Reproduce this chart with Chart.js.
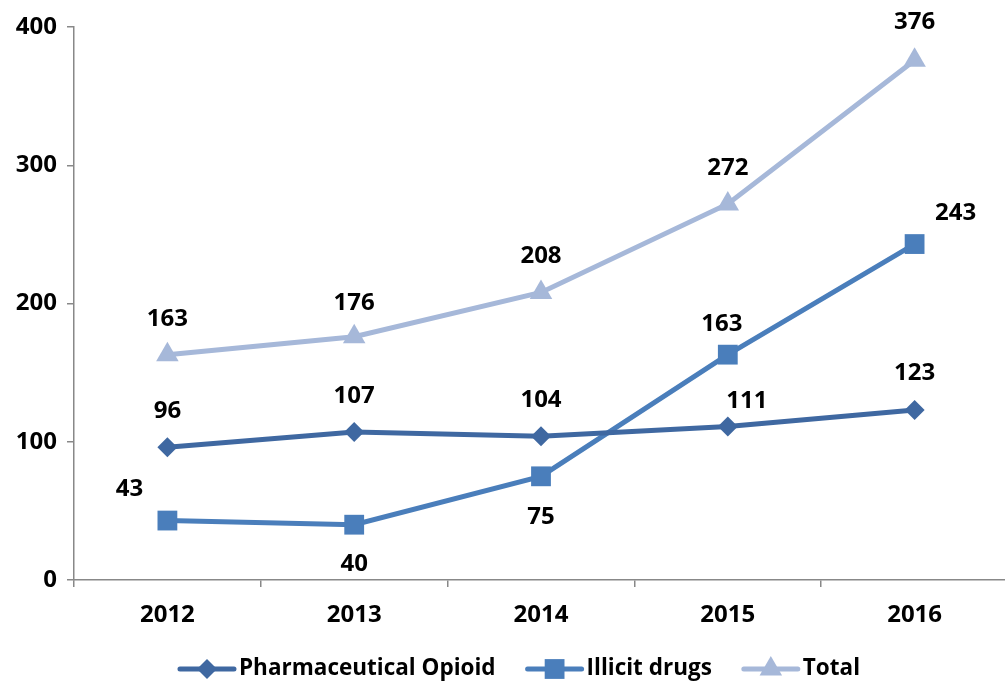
<!DOCTYPE html>
<html>
<head>
<meta charset="utf-8">
<script src="https://cdn.jsdelivr.net/npm/chart.js@4.4.0/dist/chart.umd.min.js"></script>
<style>
  html, body { margin: 0; padding: 0; background: #fff; overflow: hidden; }
</style>
</head>
<body>
<canvas id="chLine" width="1008" height="683"></canvas>
<script>
let years = ['2012', '2013', '2014', '2015', '2016'];
let pharmaValues = [96, 107, 104, 111, 123];
let illicitValues = [43, 40, 75, 163, 243];
let totalValues = [163, 176, 208, 272, 376];
let yTicks = [0, 100, 200, 300, 400];

let colors = ['#3F68A1', '#4A7EBB', '#A6B8D9'];
let fontFamily = '"Open Sans", "Liberation Sans", sans-serif';
let labelFont = 'bold 24px ' + fontFamily;

// where each value label sits relative to its point (dx, dy)
let labelOffsets = [
    [[0, -36], [0, -36], [0, -36], [19, -25], [0, -37]],
    [[-38, -31], [0, 39], [0, 41], [-6, -30], [41, -31]],
    [[0, -35], [0, -34], [0, -36], [0, -36], [0, -38]]
];

const valueLabels = {
    id: 'valueLabels',
    afterDatasetsDraw(chart) {
        const ctx = chart.ctx;
        ctx.save();
        ctx.font = labelFont;
        ctx.fillStyle = '#000';
        ctx.textAlign = 'center';
        ctx.textBaseline = 'middle';
        chart.data.datasets.forEach((ds, i) => {
            chart.getDatasetMeta(i).data.forEach((pt, j) => {
                let off = labelOffsets[i][j];
                ctx.fillText(ds.data[j], pt.x + off[0], pt.y + off[1]);
            });
        });
        ctx.restore();
    }
};

const lineLegend = {
    id: 'lineLegend',
    afterDraw(chart) {
        const ctx = chart.ctx;
        ctx.save();
        ctx.font = 'bold 22.5px ' + fontFamily;
        ctx.textBaseline = 'middle';
        let sw = 54, gap = 5, between = 32;
        let items = chart.data.datasets.map(ds => ({ ds: ds, w: ctx.measureText(ds.label).width }));
        let total = items.reduce((s, it) => s + sw + gap + it.w, 0) + between * (items.length - 1);
        let x = 520 - total / 2;
        let y = 669;
        items.forEach(it => {
            let ds = it.ds;
            ctx.strokeStyle = ds.borderColor;
            ctx.lineWidth = 5;
            ctx.lineCap = 'round';
            ctx.beginPath();
            ctx.moveTo(x, y);
            ctx.lineTo(x + sw, y);
            ctx.stroke();
            ctx.fillStyle = ds.pointBackgroundColor;
            Chart.helpers.drawPoint(ctx, {
                pointStyle: ds.pointStyle,
                radius: ds.pointRadius,
                rotation: 0,
                borderWidth: 0
            }, x + sw / 2, y);
            ctx.fillStyle = '#000';
            ctx.fillText(ds.label, x + sw + gap, y);
            x += sw + gap + it.w + between;
        });
        ctx.restore();
    }
};

function makeSeries(label, data, color, style, radius) {
    return {
        label: label,
        data: data,
        borderColor: color,
        backgroundColor: color,
        pointBackgroundColor: color,
        pointBorderColor: color,
        pointBorderWidth: 0,
        borderWidth: 5,
        pointStyle: style,
        pointRadius: radius,
        pointHoverRadius: radius,
        tension: 0,
        fill: false,
        clip: false
    };
}

var chLine = document.getElementById('chLine');
new Chart(chLine, {
    type: 'line',
    data: {
        labels: years,
        datasets: [
            makeSeries('Pharmaceutical Opioid', pharmaValues, colors[0], 'rectRot', 10),
            makeSeries('Illicit drugs', illicitValues, colors[1], 'rect', 14),
            makeSeries('Total', totalValues, colors[2], 'triangle', 13)
        ]
    },
    options: {
        responsive: false,
        animation: false,
        layout: { autoPadding: false, padding: { top: 27, right: 0, left: 0, bottom: 0 } },
        plugins: {
            legend: { display: false },
            tooltip: { enabled: false }
        },
        scales: {
            x: {
                offset: true,
                afterFit: (s) => { s.height = 103; },
                border: { color: '#888', width: 1.5 },
                grid: { drawOnChartArea: false, drawTicks: true, tickLength: 7, color: '#888', lineWidth: 1.5, offset: true },
                ticks: {
                    padding: 14,
                    color: '#000',
                    font: { family: fontFamily, size: 24, weight: 'bold' }
                }
            },
            y: {
                min: 0,
                max: 400,
                afterFit: (s) => { s.width = 74; },
                afterBuildTicks: (s) => { s.ticks = yTicks.map(v => ({ value: v })); },
                border: { color: '#888', width: 1.5 },
                grid: { drawOnChartArea: false, drawTicks: true, tickLength: 7, color: '#888', lineWidth: 1.5 },
                ticks: {
                    padding: 10,
                    color: '#000',
                    font: { family: fontFamily, size: 24, weight: 'bold' }
                }
            }
        }
    },
    plugins: [valueLabels, lineLegend]
});
</script>
</body>
</html>
